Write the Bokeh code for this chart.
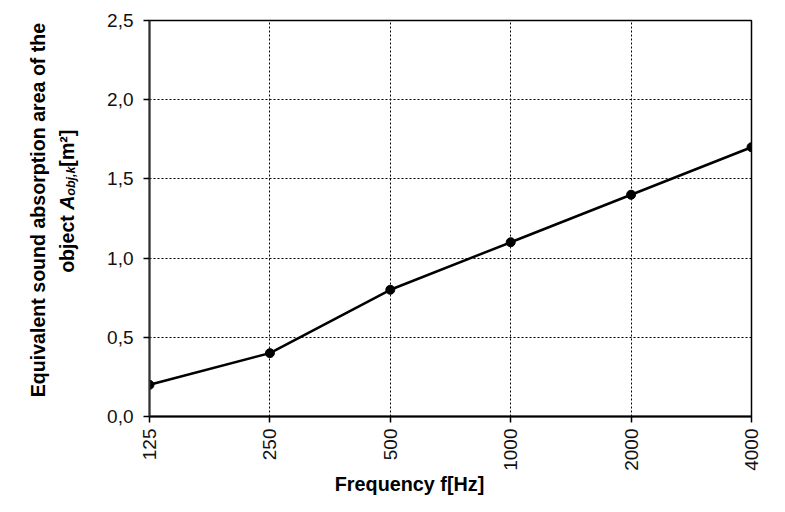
import math
from bokeh.plotting import figure
from bokeh.layouts import row, column
from bokeh.models import Range1d, FixedTicker
from bokeh.core.properties import value
from bokeh.embed import file_html
from bokeh.resources import INLINE

# ---- data ----
frequencies = ["125", "250", "500", "1000", "2000", "4000"]
absorption = [0.2, 0.4, 0.8, 1.1, 1.4, 1.7]
y_ticks = [0.0, 0.5, 1.0, 1.5, 2.0, 2.5]
y_tick_labels = ["0,0", "0,5", "1,0", "1,5", "2,0", "2,5"]
x_title = "Frequency f[Hz]"
y_title_line1 = "Equivalent sound absorption area of the"
y_title_line2 = ["object ", "A", "obj,k", "[m²]"]

x_idx = list(range(len(frequencies)))

FONT = "Liberation Sans"
FS = 19.0        # tick labels
TFS = 19.6       # y title
XFS = 19.8       # x title
TOTAL_W, TOTAL_H = 769, 496
LEFT_W = 100
ROW_H = 473
FRAME_TOP, FRAME_BOTTOM = 20, 417   # frame edges (px from top)
BASE_FIX = 8                         # baseline correction of the svg text


def blank(w, h, top=0, bottom=0):
    f = figure(width=w, height=h, output_backend="svg", toolbar_location=None,
               title=None,
               x_range=Range1d(0, w), y_range=Range1d(bottom, h - top),
               x_axis_location=None, y_axis_location=None,
               min_border=0, min_border_left=0, min_border_right=0,
               min_border_top=top, min_border_bottom=bottom)
    f.outline_line_color = None
    f.xgrid.visible = False
    f.ygrid.visible = False
    f.background_fill_color = "white"
    f.border_fill_color = "white"
    return f


# ---- main chart ----
p = figure(width=TOTAL_W - LEFT_W, height=ROW_H, output_backend="svg",
           toolbar_location=None,
           x_range=Range1d(0, len(frequencies) - 1), y_range=Range1d(0, 2.5),
           min_border_left=149 - LEFT_W, min_border_right=TOTAL_W - 751,
           min_border_top=FRAME_TOP, min_border_bottom=ROW_H - FRAME_BOTTOM)
p.background_fill_color = "white"
p.border_fill_color = "white"
p.outline_line_color = "black"
p.outline_line_width = 1.5

p.xaxis.ticker = FixedTicker(ticks=x_idx)
p.xaxis.major_label_overrides = {i: f for i, f in zip(x_idx, frequencies)}
p.xaxis.major_label_orientation = math.pi / 2
p.yaxis.ticker = FixedTicker(ticks=y_ticks)
p.yaxis.major_label_overrides = {t: l for t, l in zip(y_ticks, y_tick_labels)}
for ax in (p.xaxis, p.yaxis):
    ax.axis_line_color = "black"
    ax.axis_line_width = 2
    ax.major_tick_line_color = "black"
    ax.major_tick_line_width = 1.5
    ax.major_tick_out = 6
    ax.major_tick_in = 0
    ax.minor_tick_line_color = None
    ax.major_label_text_font = FONT
    ax.major_label_text_font_size = f"{FS}px"
    ax.major_label_text_color = "#111111"
p.yaxis.axis_line_color = "#333333"
p.yaxis.major_label_standoff = 10
p.xaxis.major_label_standoff = 6

for g in (p.xgrid, p.ygrid):
    g.grid_line_color = "black"
    g.grid_line_dash = "2 2"
    g.grid_line_width = 1

p.line(x_idx, absorption, line_color="black", line_width=2.5)
p.scatter(x_idx, absorption, size=9, color="black")

# ---- y title panel (frame aligned with the chart frame) ----
yp = blank(LEFT_W, ROW_H, top=FRAME_TOP, bottom=ROW_H - FRAME_BOTTOM)
yp.text(x=[45 - BASE_FIX], y=[ROW_H - 210], text=[y_title_line1], angle=math.pi / 2,
        text_font=value(FONT), text_font_size=value(f"{TFS}px"),
        text_font_style="bold", text_align="center", text_baseline="alphabetic",
        text_color="black")

sub = 12.5
widths = [3.223 * TFS, 0.722 * TFS, 2.334 * sub, 1.888 * TFS]
sizes = [TFS, TFS, sub, TFS]
styles = ["bold", "bold italic", "bold italic", "bold"]
shifts = [0, 0, 4, 0]
cur = ROW_H - 273
for txt, w, s, st, sh in zip(y_title_line2, widths, sizes, styles, shifts):
    yp.text(x=[74 - BASE_FIX + sh], y=[cur], text=[txt], angle=math.pi / 2,
            text_font=value(FONT), text_font_size=value(f"{s}px"),
            text_font_style=st, text_align="left", text_baseline="alphabetic",
            text_color="black")
    cur += w

# ---- x title panel ----
XH = TOTAL_H - ROW_H
xp = blank(TOTAL_W, XH)
xp.text(x=[409], y=[XH - 18 + BASE_FIX], text=[x_title], text_font=value(FONT),
        text_font_size=value(f"{XFS}px"), text_font_style="bold",
        text_align="center", text_baseline="alphabetic", text_color="black")

layout = column(row(yp, p, spacing=0), xp, spacing=0)
open("out.html", "w").write(file_html(layout, INLINE))
